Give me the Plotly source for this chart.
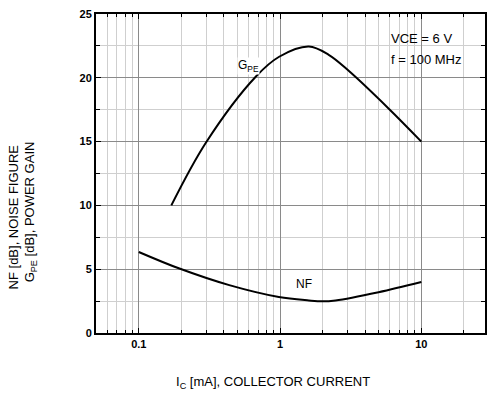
import plotly.graph_objects as go

# Power gain G_PE [dB] versus collector current
ic_gpe = [0.17, 0.30, 0.675, 0.985, 1.6, 2.21, 3.06, 5.86, 10.0]
gpe_db = [10.0, 14.95, 20.1, 21.65, 22.45, 21.8, 20.55, 17.6, 15.0]

# Noise figure NF [dB] versus collector current
ic_nf = [0.1, 0.194, 0.437, 0.98, 1.6, 1.99, 2.47, 4.98, 10.0]
nf_db = [6.35, 5.05, 3.75, 2.82, 2.55, 2.48, 2.55, 3.2, 4.0]

x_major = [0.1, 1, 10]
x_major_text = ["0.1", "1", "10"]
y_major = [0, 5, 10, 15, 20, 25]

FONT = "Arial, Liberation Sans, sans-serif"

fig = go.Figure()
for xs, ys in [(ic_gpe, gpe_db), (ic_nf, nf_db)]:
    fig.add_trace(go.Scatter(x=xs, y=ys, mode="lines",
                             line=dict(color="black", width=2,
                                       shape="spline", smoothing=1.0),
                             showlegend=False, hoverinfo="skip"))

x_minor = [m * 10.0**e for e in (-2, -1, 0, 1) for m in range(2, 10)]
x_minor = [v for v in x_minor if 0.05 <= v <= 30]

fig.update_xaxes(
    type="log", range=[-1.3028, 1.4507],
    tickvals=x_major, ticktext=x_major_text,
    tickfont=dict(family=FONT, size=11, color="black", weight="bold"),
    ticks="inside", ticklen=5, tickcolor="black", tickwidth=1,
    showline=True, linecolor="black", linewidth=2, mirror="ticks",
    showgrid=True, gridcolor="#8a8a8a", gridwidth=1,
    minor=dict(tickvals=x_minor, ticks="inside", ticklen=3, tickcolor="black",
               showgrid=True, gridcolor="#cfcfcf", gridwidth=1),
    zeroline=False,
)
fig.update_yaxes(
    range=[0, 25], tickvals=y_major,
    tickfont=dict(family=FONT, size=11, color="black", weight="bold"),
    ticks="inside", ticklen=5, tickcolor="black", tickwidth=1,
    showline=True, linecolor="black", linewidth=2, mirror="ticks",
    showgrid=True, gridcolor="#8a8a8a", gridwidth=1,
    minor=dict(dtick=2.5, ticks="inside", ticklen=4, tickcolor="black",
               showgrid=True, gridcolor="#cfcfcf", gridwidth=1),
    zeroline=False,
)

W, H = 487, 401
L, R, T, B = 96, 0, 14, 68
pw, ph = W - L - R, H - T - B


def px(x):
    return (x - L) / pw


def py(y):
    return (H - B - y) / ph


# White panel behind the operating-condition note
fig.add_shape(type="rect", xref="paper", yref="paper",
              x0=px(382), x1=px(480), y0=py(77), y1=py(23),
              fillcolor="white", line=dict(width=0), layer="below")

txt = dict(family=FONT, size=13, color="black")
fig.add_annotation(xref="paper", yref="paper", x=px(391), y=py(39),
                   xanchor="left", yanchor="middle", showarrow=False,
                   text="VCE = 6 V", font=txt)
fig.add_annotation(xref="paper", yref="paper", x=px(391), y=py(60),
                   xanchor="left", yanchor="middle", showarrow=False,
                   text="f = 100 MHz", font=txt)

fig.add_annotation(xref="paper", yref="paper", x=px(249), y=py(66),
                   xanchor="center", yanchor="middle", showarrow=False,
                   text="G<sub>PE</sub>", bgcolor="white", borderpad=0,
                   font=dict(family=FONT, size=12, color="black"))
fig.add_annotation(xref="paper", yref="paper", x=px(305), y=py(284),
                   xanchor="center", yanchor="middle", showarrow=False,
                   text="NF", font=dict(family=FONT, size=12, color="black"))

# Axis titles
title_font = dict(family=FONT, size=13, color="black")
fig.add_annotation(xref="paper", yref="paper", x=px(274), y=py(382),
                   xanchor="center", yanchor="middle", showarrow=False,
                   text="I<sub>C</sub> [mA], COLLECTOR CURRENT", font=title_font)
fig.add_annotation(xref="paper", yref="paper", x=px(13), y=py(217),
                   xanchor="center", yanchor="middle", showarrow=False,
                   textangle=-90, text="NF [dB], NOISE FIGURE", font=title_font)
fig.add_annotation(xref="paper", yref="paper", x=px(30), y=py(212),
                   xanchor="center", yanchor="middle", showarrow=False,
                   textangle=-90, text="G<sub>PE</sub> [dB], POWER GAIN",
                   font=title_font)

fig.update_layout(
    width=W, height=H,
    margin=dict(l=L, r=R, t=T, b=B),
    paper_bgcolor="white", plot_bgcolor="white",
    font=dict(family=FONT, color="black"),
)

fig.write_html("out.html")
